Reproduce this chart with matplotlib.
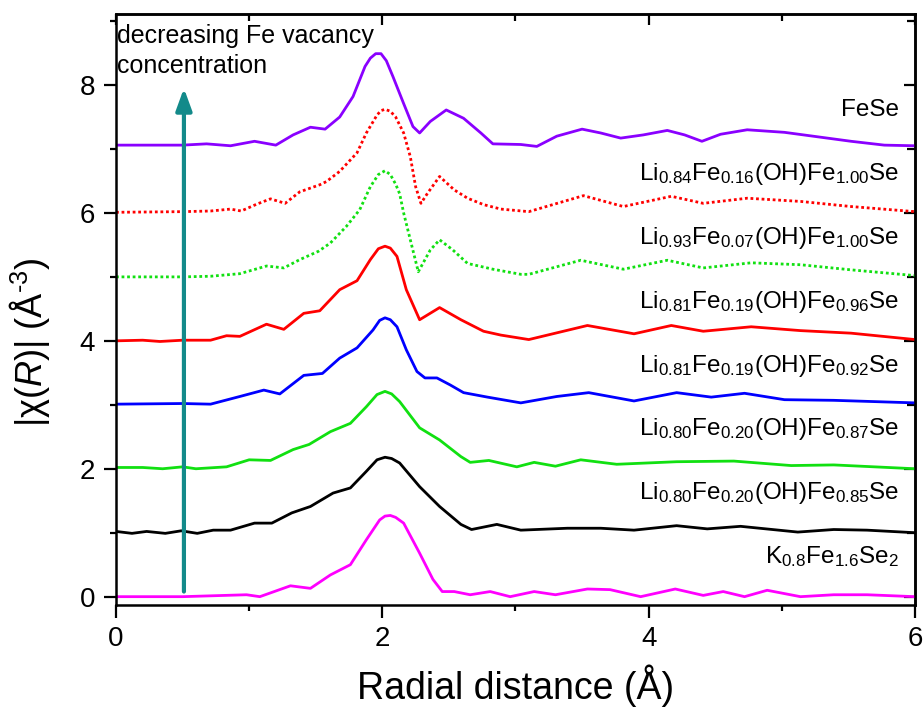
import matplotlib
matplotlib.use("Agg")
import matplotlib.pyplot as plt

plt.rcParams["font.family"] = ["Liberation Sans", "DejaVu Sans"]
plt.rcParams["mathtext.fontset"] = "custom"
plt.rcParams["mathtext.rm"] = "Liberation Sans"
plt.rcParams["mathtext.it"] = "Liberation Sans:italic"
plt.rcParams["mathtext.default"] = "regular"

# |chi(R)| curves (without vertical offset), bottom to top
k_x = [0, 0.5, 0.98, 1.08, 1.31, 1.46, 1.61, 1.76, 1.88, 1.98, 2.02, 2.06, 2.10, 2.16, 2.28, 2.38, 2.45,
       2.54, 2.66, 2.81, 2.96, 3.14, 3.30, 3.54, 3.71, 3.94, 4.20, 4.41, 4.56, 4.72, 4.89, 5.14, 5.39,
       5.64, 6.0]
k_y = [0, 0, 0.03, 0, 0.17, 0.13, 0.34, 0.50, 0.89, 1.20, 1.26, 1.27, 1.24, 1.15, 0.68, 0.27, 0.08,
       0.08, 0.03, 0.08, 0, 0.08, 0.03, 0.12, 0.11, 0, 0.12, 0.02, 0.08, 0, 0.10, 0, 0.03,
       0.03, 0]

li85_x = [0, 0.12, 0.23, 0.37, 0.49, 0.61, 0.73, 0.86, 1.04, 1.17, 1.32, 1.46, 1.63, 1.76, 1.88, 1.96,
          2.02, 2.07, 2.13, 2.28, 2.43, 2.59, 2.67, 2.86, 3.04, 3.39, 3.64, 3.89, 4.21, 4.44, 4.69, 5.12,
          5.39, 5.64, 6.0]
li85_y = [0.02, -0.01, 0.02, -0.01, 0.03, -0.01, 0.04, 0.04, 0.15, 0.15, 0.31, 0.41, 0.62, 0.70, 0.96,
          1.14, 1.18, 1.16, 1.09, 0.72, 0.41, 0.13, 0.05, 0.13, 0.04, 0.07, 0.07, 0.04, 0.11, 0.06, 0.10,
          0.01, 0.05, 0.04, 0]

li87_x = [0, 0.2, 0.35, 0.5, 0.6, 0.83, 1.0, 1.16, 1.33, 1.45, 1.61, 1.76, 1.88, 1.96, 2.02, 2.07, 2.13,
          2.28, 2.43, 2.59, 2.66, 2.80, 3.01, 3.14, 3.30, 3.49, 3.76, 4.21, 4.64, 5.07, 5.39, 6.0]
li87_y = [0.02, 0.02, 0, 0.03, 0, 0.03, 0.14, 0.13, 0.30, 0.38, 0.58, 0.71, 0.97, 1.16, 1.21, 1.17, 1.05,
          0.64, 0.45, 0.19, 0.10, 0.13, 0.03, 0.10, 0.04, 0.14, 0.07, 0.11, 0.12, 0.05, 0.06, 0]

li92_x = [0, 0.5, 0.71, 0.93, 1.11, 1.23, 1.41, 1.55, 1.68, 1.81, 1.93, 1.98, 2.02, 2.06, 2.11, 2.18,
          2.26, 2.32, 2.41, 2.51, 2.61, 2.79, 3.04, 3.31, 3.55, 3.89, 4.21, 4.47, 4.72, 5.02, 5.39, 6.0]
li92_y = [0.01, 0.02, 0.01, 0.13, 0.23, 0.17, 0.46, 0.49, 0.73, 0.89, 1.17, 1.32, 1.36, 1.33, 1.22, 0.86,
          0.52, 0.42, 0.42, 0.31, 0.19, 0.12, 0.03, 0.13, 0.19, 0.06, 0.19, 0.12, 0.18, 0.08, 0.07, 0.03]

li96_x = [0, 0.2, 0.33, 0.5, 0.71, 0.83, 0.93, 1.13, 1.26, 1.41, 1.53, 1.68, 1.81, 1.91, 1.97, 2.02,
          2.06, 2.11, 2.18, 2.28, 2.43, 2.59, 2.76, 2.89, 3.10, 3.54, 3.89, 4.17, 4.41, 4.77, 5.14, 5.52,
          6.0]
li96_y = [0, 0.01, -0.01, 0.01, 0.01, 0.08, 0.07, 0.26, 0.18, 0.43, 0.47, 0.80, 0.94, 1.27, 1.44, 1.48,
          1.45, 1.32, 0.80, 0.33, 0.52, 0.33, 0.15, 0.09, 0.02, 0.24, 0.11, 0.24, 0.15, 0.22, 0.16, 0.12,
          0.02]

li93_x = [0, 0.5, 0.71, 0.93, 1.13, 1.26, 1.38, 1.52, 1.61, 1.73, 1.83, 1.91, 1.97, 2.02, 2.06, 2.10,
          2.13, 2.16, 2.21, 2.27, 2.36, 2.43, 2.53, 2.64, 2.83, 3.04, 3.10, 3.49, 3.81, 4.14, 4.41, 4.77,
          5.14, 5.52, 6.0]
li93_y = [0, 0, 0.01, 0.05, 0.17, 0.14, 0.27, 0.40, 0.53, 0.79, 1.05, 1.41, 1.60, 1.66, 1.60, 1.45,
          1.30, 1.0, 0.58, 0.08, 0.42, 0.58, 0.42, 0.21, 0.12, 0.04, 0.04, 0.26, 0.12, 0.26, 0.14, 0.22,
          0.19, 0.11, 0.02]

li84_x = [0, 0.5, 0.71, 0.86, 0.94, 1.06, 1.16, 1.27, 1.38, 1.53, 1.58, 1.68, 1.81, 1.88, 1.96, 1.99,
          2.02, 2.06, 2.10, 2.16, 2.21, 2.25, 2.29, 2.34, 2.43, 2.54, 2.64, 2.76, 2.89, 3.10, 3.51, 3.81,
          4.17, 4.41, 4.74, 5.14, 5.52, 6.0]
li84_y = [0.01, 0.02, 0.03, 0.06, 0.03, 0.14, 0.22, 0.15, 0.33, 0.44, 0.49, 0.65, 0.94, 1.25, 1.53, 1.60,
          1.62, 1.59, 1.50, 1.25, 0.88, 0.41, 0.15, 0.31, 0.57, 0.36, 0.23, 0.13, 0.06, 0.02, 0.27, 0.10,
          0.26, 0.15, 0.23, 0.18, 0.10, 0.02]

fese_x = [0, 0.5, 0.68, 0.86, 1.04, 1.2, 1.33, 1.46, 1.57, 1.68, 1.78, 1.87, 1.91, 1.95, 1.99, 2.03,
          2.08, 2.16, 2.23, 2.28, 2.36, 2.48, 2.61, 2.74, 2.83, 3.04, 3.16, 3.31, 3.50, 3.64, 3.79, 3.96,
          4.14, 4.27, 4.40, 4.54, 4.74, 5.02, 5.27, 5.52, 5.77, 6.0]
fese_y = [0.06, 0.06, 0.08, 0.05, 0.12, 0.06, 0.22, 0.34, 0.31, 0.50, 0.82, 1.29, 1.42, 1.49, 1.49, 1.38,
          1.13, 0.71, 0.35, 0.25, 0.43, 0.61, 0.48, 0.25, 0.08, 0.07, 0.04, 0.20, 0.31, 0.25, 0.17, 0.22,
          0.29, 0.22, 0.12, 0.23, 0.30, 0.26, 0.19, 0.12, 0.06, 0.05]

names = [
    "K$_{0.8}$Fe$_{1.6}$Se$_{2}$",
    "Li$_{0.80}$Fe$_{0.20}$(OH)Fe$_{0.85}$Se",
    "Li$_{0.80}$Fe$_{0.20}$(OH)Fe$_{0.87}$Se",
    "Li$_{0.81}$Fe$_{0.19}$(OH)Fe$_{0.92}$Se",
    "Li$_{0.81}$Fe$_{0.19}$(OH)Fe$_{0.96}$Se",
    "Li$_{0.93}$Fe$_{0.07}$(OH)Fe$_{1.00}$Se",
    "Li$_{0.84}$Fe$_{0.16}$(OH)Fe$_{1.00}$Se",
    "FeSe",
]
curves = [(k_x, k_y), (li85_x, li85_y), (li87_x, li87_y), (li92_x, li92_y),
          (li96_x, li96_y), (li93_x, li93_y), (li84_x, li84_y), (fese_x, fese_y)]
colors = ["#ff00ff", "#000000", "#11e011", "#0000ff", "#ff0000", "#11e011", "#ff0000", "#8a00ff"]
styles = ["-", "-", "-", "-", "-", (0, (1, 1)), (0, (1, 1)), "-"]

fig = plt.figure(figsize=(9.23, 7.08), dpi=100)
ax = fig.add_axes([0.1257, 0.1455, 0.8656, 0.8347])

for i, ((xs, ys), name, c, ls) in enumerate(zip(curves, names, colors, styles)):
    ax.plot(xs, [v + i for v in ys], color=c, ls=ls, lw=2,
            solid_joinstyle="round", dash_joinstyle="round")
    ax.text(5.88, i + 0.52, name, ha="right", va="baseline", fontsize=17.5)

ax.annotate("", xy=(0.51, 7.95), xytext=(0.51, 0.08),
            arrowprops=dict(arrowstyle="-|>,head_length=0.55,head_width=0.2", color="#138a8a",
                            lw=3, mutation_scale=24, shrinkA=0, shrinkB=0))
ax.text(0.01, 8.95, "decreasing Fe vacancy\nconcentration", ha="left", va="top",
        fontsize=18, linespacing=1.3)

ax.set_xlim(0, 6)
ax.set_ylim(-0.13, 9.11)
ax.set_xticks([0, 2, 4, 6])
ax.set_xticks([1, 3, 5], minor=True)
ax.set_yticks([0, 2, 4, 6, 8])
ax.set_yticks([1, 3, 5, 7, 9], minor=True)
ax.tick_params(which="both", labelsize=20, width=1.6, pad=6)
ax.tick_params(which="major", length=9)
ax.tick_params(which="minor", length=4.5)
ax.tick_params(which="both", direction="out", top=False, right=False)
sec_x = ax.secondary_xaxis("top")
sec_x.set_xticks([0, 2, 4, 6], labels=[])
sec_x.set_xticks([1, 3, 5], minor=True)
sec_x.tick_params(which="both", direction="in", width=1.6)
sec_x.tick_params(which="major", length=8)
sec_x.tick_params(which="minor", length=5)
sec_y = ax.secondary_yaxis("right")
sec_y.set_yticks([0, 2, 4, 6, 8], labels=[])
sec_y.set_yticks([1, 3, 5, 7, 9], minor=True)
sec_y.tick_params(which="both", direction="in", width=1.6)
sec_y.tick_params(which="major", length=8)
sec_y.tick_params(which="minor", length=6)
for a in (ax, sec_x, sec_y):
    for s in a.spines.values():
        s.set_linewidth(1.8)

ax.set_xlabel("Radial distance (Å)", fontsize=27)
ax.xaxis.set_label_coords(0.5, -0.1)
ax.set_ylabel("|χ($\\mathit{R}$)| (Å$^{\\text{-3}}$)", fontsize=26)
ax.yaxis.set_label_coords(-0.08, 0.445)

fig.savefig("out.png", dpi=100)
